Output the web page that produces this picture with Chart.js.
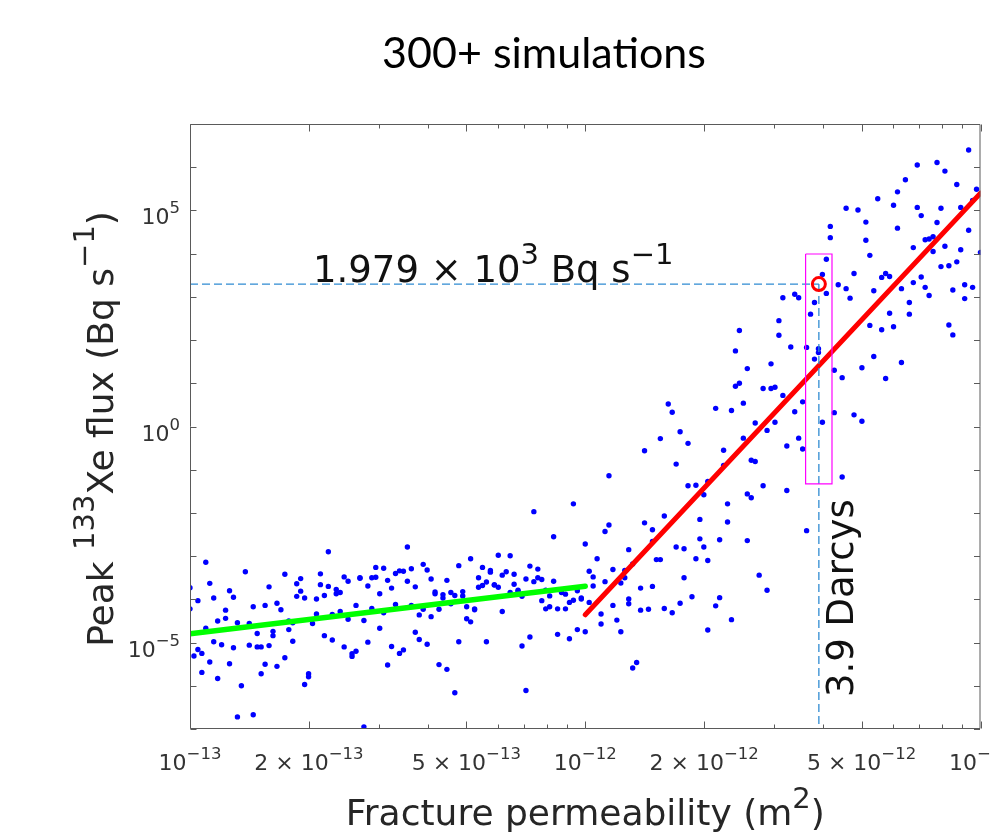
<!DOCTYPE html>
<html>
<head>
<meta charset="utf-8">
<title>300+ simulations</title>
<script src="https://cdn.jsdelivr.net/npm/chart.js"></script>
<style>
  html, body { margin: 0; padding: 0; background: #fff; }
</style>
</head>
<body>
<canvas id="chart" width="990" height="834"></canvas>
<script>
// values, stored as log10
// low permeability runs (k <= 1e-12 m2)
const lowLogK = [
  -13.00,-13.00,-12.98,-12.96,-12.95,-12.94,-12.96,-12.98,-12.97,-12.99,
  -12.97,-12.95,-12.94,-12.93,-12.93,-12.92,-12.91,-12.91,-12.90,-12.90,
  -12.89,-12.89,-12.88,-12.87,-12.88,-12.86,-12.85,-12.85,-12.84,-12.84,
  -12.83,-12.83,-12.82,-12.82,-12.81,-12.81,-12.80,-12.80,-12.79,-12.79,
  -12.78,-12.78,-12.77,-12.76,-12.76,-12.75,-12.75,-12.74,-12.74,-12.73,
  -12.73,-12.72,-12.72,-12.71,-12.71,-12.70,-12.70,-12.69,-12.68,-12.68,
  -12.67,-12.67,-12.66,-12.66,-12.65,-12.65,-12.64,-12.64,-12.63,-12.63,
  -12.62,-12.62,-12.61,-12.61,-12.60,-12.60,-12.59,-12.59,-12.58,-12.58,
  -12.57,-12.57,-12.56,-12.56,-12.55,-12.55,-12.54,-12.54,-12.53,-12.53,
  -12.52,-12.52,-12.51,-12.51,-12.50,-12.50,-12.49,-12.49,-12.48,-12.48,
  -12.47,-12.47,-12.46,-12.46,-12.45,-12.45,-12.44,-12.44,-12.43,-12.43,
  -12.42,-12.42,-12.41,-12.41,-12.40,-12.40,-12.39,-12.39,-12.38,-12.38,
  -12.37,-12.37,-12.36,-12.36,-12.35,-12.35,-12.34,-12.34,-12.33,-12.33,
  -12.32,-12.32,-12.31,-12.31,-12.30,-12.30,-12.29,-12.29,-12.28,-12.28,
  -12.27,-12.27,-12.26,-12.26,-12.25,-12.25,-12.24,-12.24,-12.23,-12.23,
  -12.22,-12.22,-12.21,-12.21,-12.20,-12.19,-12.19,-12.18,-12.18,-12.17,
  -12.17,-12.16,-12.15,-12.16,-12.15,-12.14,-12.14,-12.13,-12.13,-12.12,
  -12.12,-12.11,-12.11,-12.10,-12.10,-12.09,-12.09,-12.08,-12.08,-12.07,
  -12.07,-12.06,-12.05,-12.05,-12.04,-12.04,-12.03,-12.03,-12.02,-12.02,
  -12.01,-12.01,-12.00,-12.00
];
const lowLogFlux = [
  -3.73,-4.22,-4.03,-3.14,-3.63,-3.97,-4.67,-5.16,-5.25,-5.31,
  -5.69,-5.45,-4.98,-5.83,-4.50,-5.05,-4.44,-4.25,-5.49,-3.80,
  -3.95,-5.12,-4.54,-6.00,-6.72,-3.36,-4.56,-5.06,-6.67,-4.17,
  -4.79,-5.10,-5.10,-5.72,-4.14,-5.50,-3.71,-5.07,-4.84,-4.74,
  -5.55,-4.09,-4.24,-3.42,-5.35,-4.50,-4.70,-4.54,-4.97,-3.64,
  -3.93,-3.52,-3.81,-3.97,-5.97,-5.79,-5.72,-4.56,-4.34,-3.99,
  -3.41,-3.66,-3.91,-4.84,-2.90,-3.70,-4.35,-4.94,-3.77,-3.87,
  -3.84,-4.28,-3.48,-5.10,-3.58,-4.46,-5.32,-5.26,-4.14,-5.20,
  -3.51,-3.50,-6.95,-4.49,-3.69,-4.99,-4.21,-3.50,-3.49,-3.26,
  -4.67,-3.87,-3.28,-4.31,-5.52,-3.56,-3.74,-5.09,-3.40,-4.12,
  -5.25,-3.34,-5.17,-3.35,-3.58,-2.79,-4.14,-3.29,-4.76,-3.71,
  -4.36,-4.93,-4.23,-3.19,-5.04,-3.32,-3.53,-4.40,-3.83,-3.87,
  -4.23,-5.51,-3.97,-3.89,-3.56,-5.62,-3.84,-4.10,-3.91,-6.16,
  -3.22,-4.98,-3.92,-3.82,-4.17,-4.45,-3.06,-4.52,-4.24,-4.22,
  -3.50,-3.72,-3.68,-3.26,-3.60,-4.98,-3.33,-3.37,-3.66,-3.67,
  -3.72,-2.98,-3.44,-4.28,-3.36,-2.99,-3.84,-3.65,-3.42,-3.81,
  -3.79,-3.93,-6.11,-5.08,-3.53,-3.23,-4.87,-3.59,-1.97,-3.50,
  -3.30,-4.03,-3.54,-4.22,-3.79,-4.17,-3.92,-2.55,-3.58,-4.81,
  -4.22,-3.84,-3.88,-4.22,-4.07,-4.91,-1.79,-4.02,-4.70,-3.80,
  -3.99,-3.97,-4.75,-2.72
];
// runs between 1e-12 and about 5e-12, lower part of the cloud
const midLogK = [
  -11.99,-11.99,-11.98,-11.98,-11.97,-11.96,-11.96,-11.95,-11.95,-11.94,
  -11.94,-11.93,-11.93,-11.92,-11.91,-11.91,-11.90,-11.90,-11.89,-11.89,
  -11.89,-11.88,-11.88,-11.87,-11.86,-11.86,-11.85,-11.85,-11.84,-11.83,
  -11.83,-11.83,-11.82,-11.81,-11.81,-11.80,-11.80,-11.78,-11.77,-11.77,
  -11.76,-11.76,-11.75,-11.75,-11.74,-11.74,-11.73,-11.72,-11.72,-11.71,
  -11.71,-11.70,-11.70,-11.69,-11.69,-11.69,-11.67,-11.66,-11.66,-11.65,
  -11.65,-11.64,-11.64,-11.63,-11.60,-11.59,-11.59,-11.58,-11.58,-11.57,
  -11.57,-11.56,-11.55,-11.54,-11.54,-11.52,-11.49,-11.49,-11.46,-11.45,
  -11.44,-11.40,-11.35,-11.30
];
const midLogFlux = [
  -4.07,-3.35,-3.69,-3.48,-3.06,-4.57,-4.34,-2.43,-3.59,-2.28,
  -1.14,-3.31,-4.14,-4.48,-3.62,-4.75,-3.50,-3.33,-2.85,-4.10,
  -3.99,-3.18,-5.59,-5.46,-3.74,-4.25,-2.23,-0.56,-4.23,-2.66,
  -2.39,-3.70,-3.08,-3.08,-0.28,-2.07,-4.21,-4.31,-0.87,-2.79,
  -4.09,-0.12,-3.50,-2.83,-1.37,-0.39,-3.94,-3.06,-1.36,-2.60,
  -2.15,-1.58,-2.79,-4.71,-3.10,-1.27,-4.15,-2.62,-3.96,-0.55,
  -0.90,-2.21,-1.79,-4.47,-0.27,-2.64,-1.56,-0.78,-1.65,-0.81,
  0.08,-3.44,-1.37,-0.09,-3.79,0.10,-0.45,-1.48,-0.27,-0.52,
  -2.41,0.10,-1.17,0.12
];
// upper part of the cloud
const highLogK = [
  -11.79,-11.78,-11.67,-11.63,-11.61,-11.62,-11.62,-11.61,-11.60,-11.59,
  -11.55,-11.53,-11.53,-11.52,-11.51,-11.51,-11.50,-11.50,-11.48,-11.47,
  -11.47,-11.46,-11.45,-11.44,-11.43,-11.42,-11.42,-11.41,-11.41,
  -11.40,-11.39,-11.39,-11.38,-11.38,-11.37,-11.37,-11.36,-11.35,-11.34,
  -11.34,-11.33,-11.32,-11.32,-11.31,-11.30,-11.29,-11.29,-11.28,-11.28,
  -11.27,-11.27,-11.26,-11.25,-11.25,-11.24,-11.24,-11.23,-11.23,-11.22,
  -11.22,-11.21,-11.21,-11.20,-11.20,-11.19,-11.18,-11.18,-11.17,-11.17,
  -11.16,-11.16,-11.15,-11.15,-11.14,-11.14,-11.13,-11.13,-11.12,-11.12,
  -11.11,-11.11,-11.10,-11.10,-11.09,-11.09,-11.08,-11.08,-11.07,-11.07,
  -11.06,-11.06,-11.05,-11.05,-11.04,-11.04,-11.03,-11.03,-11.02,-11.02,
  -11.01,-11.00
];
const highLogFlux = [
  0.52,0.33,0.42,0.37,2.22,1.75,0.93,1.00,0.54,1.34,
  0.88,0.88,1.45,0.91,2.45,2.11,2.98,0.72,1.84,0.34,
  3.06,2.98,0.57,1.83,2.60,2.87,1.56,1.80,1.71,
  3.52,3.87,3.08,4.37,4.63,1.30,0.32,3.28,1.13,3.19,
  5.05,2.97,0.27,3.54,5.01,1.36,4.73,4.31,2.34,3.96,
  3.14,1.62,5.27,3.45,2.24,1.11,3.54,2.62,3.47,2.31,
  5.12,5.43,4.59,1.48,3.19,5.71,2.87,2.60,3.33,4.14,
  5.07,6.05,3.46,4.88,3.22,4.32,3.03,4.34,4.05,4.39,
  6.11,4.72,3.70,5.05,4.17,5.91,3.72,2.35,2.12,3.16,
  3.81,5.60,4.09,5.07,2.96,3.28,4.54,6.40,5.23,3.22,
  5.49,4.03
];

// fitted lines (end points, m2 and Bq/s)
const greenFitK = [1e-13, 1e-12];
const greenFitFlux = [1.6e-5, 2.0e-4];
const redFitK = [1e-12, 1e-11];
const redFitFlux = [4.4e-5, 2.5e5];

// picked run: 3.9 Darcys, 1.979e3 Bq/s
const pickK = 3.9e-12;
const pickFlux = 1979;
const boxK = [3.61e-12, 4.21e-12];
const boxFlux = [0.047, 9.8e3];

// axis ticks
const xMajorTicks = [1e-13, 2e-13, 5e-13, 1e-12, 2e-12, 5e-12, 1e-11];
const xTickMant = ['', '2 × ', '5 × ', '', '2 × ', '5 × ', ''];
const xTickExp = ['−13', '−13', '−13', '−12', '−12', '−12', '−11'];
const xMinorTicks = [3e-13, 4e-13, 6e-13, 7e-13, 8e-13, 9e-13, 3e-12, 4e-12, 6e-12, 7e-12, 8e-12, 9e-12];
const yDecadeTicks = [1e-7, 1e-6, 1e-5, 1e-4, 1e-3, 1e-2, 1e-1, 1, 1e1, 1e2, 1e3, 1e4, 1e5, 1e6, 1e7];
const yLabelTicks = [1e-5, 1, 1e5];
const yTickExp = ['−5', '0', '5'];

const SANS = '"DejaVu Sans", sans-serif';

function toPoints(lk, lf) {
  return lk.map((k, i) => ({ x: Math.pow(10, k), y: Math.pow(10, lf[i]) }));
}
function pairs(xs, ys) {
  return xs.map((v, i) => ({ x: v, y: ys[i] }));
}

// text with superscripts: parts = [[text, isSup], ...]
function partsWidth(ctx, parts, size, supSize) {
  let w = 0;
  parts.forEach(([t, sup]) => {
    ctx.font = (sup ? supSize : size) + 'px ' + SANS;
    w += ctx.measureText(t).width;
  });
  return w;
}
function drawParts(ctx, parts, x, y, size, supSize, rise, align) {
  const w = partsWidth(ctx, parts, size, supSize);
  let cx = align === 'center' ? x - w / 2 : align === 'right' ? x - w : x;
  ctx.textAlign = 'left';
  ctx.textBaseline = 'alphabetic';
  parts.forEach(([t, sup]) => {
    ctx.font = (sup ? supSize : size) + 'px ' + SANS;
    ctx.fillText(t, cx, sup ? y - rise : y);
    cx += ctx.measureText(t).width;
  });
}

// box, inward ticks, labels and texts in the MATLAB look
const axesFrame = {
  id: 'axesFrame',
  afterDraw(chart) {
    const { ctx, chartArea: a } = chart;
    const xs = chart.scales.x, ys = chart.scales.y;
    const L = a.left + 0.5, R = a.right - 0.5, T = a.top + 0.5, B = a.bottom - 0.5;
    ctx.save();

    ctx.strokeStyle = '#5a5a5a';
    ctx.lineWidth = 1;
    ctx.beginPath();
    ctx.rect(L, T, R - L, B - T);
    const xTick = (v, len) => {
      const p = Math.round(xs.getPixelForValue(v)) + 0.5;
      ctx.moveTo(p, B); ctx.lineTo(p, B - len);
      ctx.moveTo(p, T); ctx.lineTo(p, T + len);
    };
    xMajorTicks.forEach(v => xTick(v, 7));
    xMinorTicks.forEach(v => xTick(v, 4));
    yDecadeTicks.forEach(v => {
      const p = Math.round(ys.getPixelForValue(v)) + 0.5;
      ctx.moveTo(L, p); ctx.lineTo(L + 6, p);
      ctx.moveTo(R, p); ctx.lineTo(R - 6, p);
    });
    ctx.stroke();

    // tick labels
    ctx.fillStyle = '#333';
    xMajorTicks.forEach((v, i) => {
      drawParts(ctx, [[xTickMant[i] + '10', false], [xTickExp[i], true]],
        xs.getPixelForValue(v), a.bottom + 41, 22, 16.5, 11, 'center');
    });
    yLabelTicks.forEach((v, i) => {
      drawParts(ctx, [['10', false], [yTickExp[i], true]],
        a.left - 10, ys.getPixelForValue(v) + 14, 22, 16.5, 11, 'right');
    });

    // axis titles
    ctx.fillStyle = '#262626';
    drawParts(ctx, [['Fracture permeability (m', false], ['2', true], [')', false]],
      (a.left + a.right) / 2, 825, 36, 29, 17, 'center');
    ctx.save();
    ctx.translate(113, 429);
    ctx.rotate(-Math.PI / 2);
    drawParts(ctx, [['Peak ', false], ['133', true], ['Xe flux (Bq s', false], ['−1', true], [')', false]],
      0, 0, 36, 29, 19, 'center');
    ctx.restore();

    // annotations
    ctx.fillStyle = '#111';
    drawParts(ctx, [['1.979 × 10', false], ['3', true], [' Bq s', false], ['−1', true]],
      313, ys.getPixelForValue(pickFlux) - 2, 37, 29, 18, 'left');
    ctx.save();
    ctx.translate(xs.getPixelForValue(pickK) + 34, 697);
    ctx.rotate(-Math.PI / 2);
    drawParts(ctx, [['3.9 Darcys', false]], 0, 0, 37, 29, 18, 'left');
    ctx.restore();

    // title
    ctx.fillStyle = '#000';
    ctx.font = '43px Lato, "Open Sans", sans-serif';
    ctx.textAlign = 'center';
    ctx.fillText('300+ simulations', 544, 68);

    ctx.restore();
  }
};

const dotStyle = { pointRadius: 2.7, pointBackgroundColor: '#0000ff', pointBorderWidth: 0, order: 5 };

new Chart(document.getElementById('chart'), {
  type: 'scatter',
  data: {
    datasets: [
      { data: [{ x: pickK, y: pickFlux }], pointRadius: 6.5, pointBorderWidth: 3,
        pointBorderColor: '#ff0000', pointBackgroundColor: 'rgba(0,0,0,0)', order: 0 },
      { data: pairs([boxK[0], boxK[1], boxK[1], boxK[0], boxK[0]], [boxFlux[1], boxFlux[1], boxFlux[0], boxFlux[0], boxFlux[1]]),
        showLine: true, borderColor: '#ff00ff', borderWidth: 1.2, pointRadius: 0, order: 1 },
      { data: pairs([1e-13, pickK], [pickFlux, pickFlux]),
        showLine: true, borderColor: '#2f8bd2', borderWidth: 1.3, borderDash: [8, 4], pointRadius: 0, order: 2 },
      { data: pairs([pickK, pickK], [pickFlux, 1e-7]),
        showLine: true, borderColor: '#2f8bd2', borderWidth: 1.3, borderDash: [8, 4], pointRadius: 0, order: 2 },
      { data: pairs(redFitK, redFitFlux),
        showLine: true, borderColor: '#ff0000', borderWidth: 5, borderCapStyle: 'round', pointRadius: 0, order: 3 },
      { data: pairs(greenFitK, greenFitFlux),
        showLine: true, borderColor: '#00ff00', borderWidth: 5.5, borderCapStyle: 'round', pointRadius: 0, order: 4 },
      Object.assign({ data: toPoints(lowLogK, lowLogFlux) }, dotStyle),
      Object.assign({ data: toPoints(midLogK, midLogFlux) }, dotStyle),
      Object.assign({ data: toPoints(highLogK, highLogFlux) }, dotStyle)
    ]
  },
  options: {
    responsive: false,
    animation: false,
    layout: { padding: { left: 190, top: 124, right: 5, bottom: 105 } },
    scales: {
      x: { type: 'logarithmic', min: 1e-13, max: 1e-11, display: false },
      y: { type: 'logarithmic', min: 1e-7, max: 1e7, display: false }
    },
    plugins: { legend: { display: false }, tooltip: { enabled: false } }
  },
  plugins: [axesFrame]
});
</script>
</body>
</html>
